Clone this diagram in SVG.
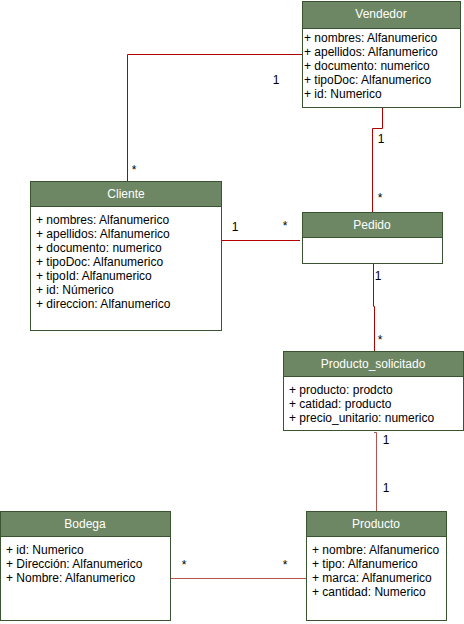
<svg xmlns="http://www.w3.org/2000/svg" width="464" height="624" viewBox="0 0 464 624">
<style>
.body{fill:#ffffff;stroke:#3A5431;stroke-width:1}
.head{fill:#6D8764;stroke:#3A5431;stroke-width:1}
.ht{font-family:"Liberation Sans",Arial,sans-serif;font-size:12px;fill:#ffffff;text-anchor:middle}
.at{font-family:"Liberation Sans",Arial,sans-serif;font-size:12px;fill:#000000}
.lb{font-family:"Liberation Sans",Arial,sans-serif;font-size:12px;fill:#000000;text-anchor:middle}
.c1{fill:none;stroke:#B20000;stroke-width:1}
.c2{fill:none;stroke:#B85450;stroke-width:1}
</style>
<rect width="464" height="624" fill="#ffffff"/>
<g id="connectors">
<path class="c1" d="M302.5,54.5 H127.5 V181"/>
<path class="c1" d="M382.5,107 V128.5 H372.5 V212"/>
<path class="c1" d="M222,240.5 H300"/>
<path class="c1" d="M373.5,263 V306.5 H374.5 V351"/>
<path class="c2" d="M374,432.5 H376.5 V511"/>
<path class="c2" d="M170.5,578.5 H306"/>
</g>
<g id="labels">
<text class="lb" x="276" y="84">1</text>
<text class="lb" x="134" y="174">*</text>
<text class="lb" x="381" y="143">1</text>
<text class="lb" x="380" y="202">*</text>
<text class="lb" x="235" y="231">1</text>
<text class="lb" x="285" y="230">*</text>
<text class="lb" x="378" y="280">1</text>
<text class="lb" x="380" y="344">*</text>
<text class="lb" x="386" y="444">1</text>
<text class="lb" x="386" y="492">1</text>
<text class="lb" x="184" y="569">*</text>
<text class="lb" x="285" y="569">*</text>
</g>
<g id="vendedor">
<rect class="body" x="302.5" y="1.5" width="158" height="106"/>
<rect class="head" x="302.5" y="1.5" width="158" height="27"/>
<text class="ht" x="381" y="18">Vendedor</text>
<text class="at" x="304" y="42">+ nombres: Alfanumerico</text>
<text class="at" x="304" y="56">+ apellidos: Alfanumerico</text>
<text class="at" x="304" y="70">+ documento: numerico</text>
<text class="at" x="304" y="84">+ tipoDoc: Alfanumerico</text>
<text class="at" x="304" y="98">+ id: Numerico</text>
</g>
<g id="cliente">
<rect class="body" x="30.5" y="181.5" width="191" height="149"/>
<rect class="head" x="30.5" y="181.5" width="191" height="25"/>
<text class="ht" x="126" y="198">Cliente</text>
<text class="at" x="36" y="224">+ nombres: Alfanumerico</text>
<text class="at" x="36" y="238">+ apellidos: Alfanumerico</text>
<text class="at" x="36" y="252">+ documento: numerico</text>
<text class="at" x="36" y="266">+ tipoDoc: Alfanumerico</text>
<text class="at" x="36" y="280">+ tipoId: Alfanumerico</text>
<text class="at" x="36" y="294">+ id: Númerico</text>
<text class="at" x="36" y="308">+ direccion: Alfanumerico</text>
</g>
<g id="pedido">
<rect class="body" x="302.5" y="212.5" width="140" height="51"/>
<rect class="head" x="302.5" y="212.5" width="140" height="25"/>
<text class="ht" x="372" y="229">Pedido</text>
</g>
<g id="producto_solicitado">
<rect class="body" x="283.5" y="351.5" width="180" height="79"/>
<rect class="head" x="283.5" y="351.5" width="180" height="25"/>
<text class="ht" x="373" y="368">Producto_solicitado</text>
<text class="at" x="289" y="394">+ producto: prodcto</text>
<text class="at" x="289" y="408">+ catidad: producto</text>
<text class="at" x="289" y="422">+ precio_unitario: numerico</text>
</g>
<g id="bodega">
<rect class="body" x="0.5" y="511.5" width="170" height="109"/>
<rect class="head" x="0.5" y="511.5" width="170" height="25"/>
<text class="ht" x="85" y="528">Bodega</text>
<text class="at" x="6" y="554">+ id: Numerico</text>
<text class="at" x="6" y="568">+ Dirección: Alfanumerico</text>
<text class="at" x="6" y="582">+ Nombre: Alfanumerico</text>
</g>
<g id="producto">
<rect class="body" x="306.5" y="511.5" width="140" height="109"/>
<rect class="head" x="306.5" y="511.5" width="140" height="25"/>
<text class="ht" x="376" y="528">Producto</text>
<text class="at" x="312" y="554">+ nombre: Alfanumerico</text>
<text class="at" x="312" y="568">+ tipo: Alfanumerico</text>
<text class="at" x="312" y="582">+ marca: Alfanumerico</text>
<text class="at" x="312" y="596">+ cantidad: Numerico</text>
</g>
</svg>
